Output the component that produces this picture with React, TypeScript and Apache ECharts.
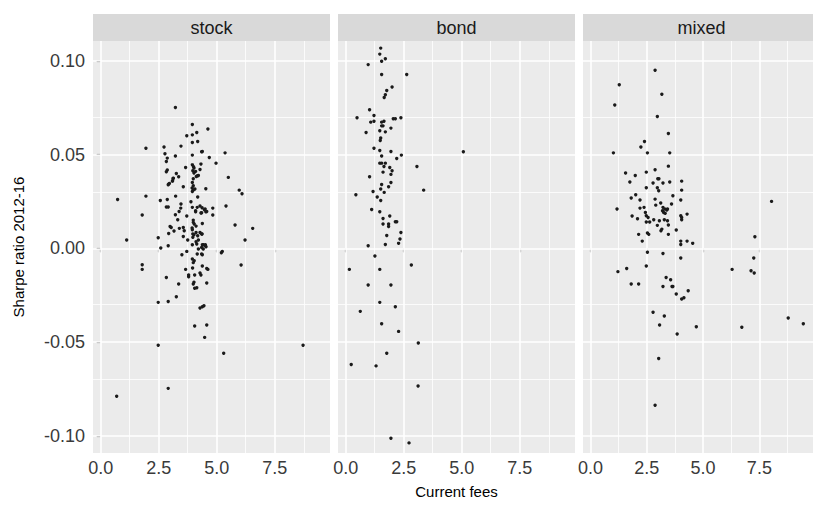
import React, { useEffect, useRef } from "react";
import * as echarts from "echarts";

const facets = ["stock", "bond", "mixed"];

const stockPoints: number[][] = [
  [3.22, 0.0752], [3.95, 0.0661], [4.14, 0.0619], [4.62, 0.0637], [3.71, 0.0601], [3.95, 0.0606],
  [4.18, 0.0571], [3.95, 0.0565], [1.95, 0.0535], [2.73, 0.0541], [3.46, 0.0546], [5.36, 0.051],
  [4.35, 0.0516], [2.77, 0.0505], [2.87, 0.0482], [3.22, 0.0493], [3.95, 0.0498], [4.68, 0.0485],
  [2.83, 0.0464], [4.97, 0.0455], [4.32, 0.045], [3.95, 0.0446], [3.66, 0.0432], [4.02, 0.0429],
  [4.28, 0.0421], [2.87, 0.0418], [2.83, 0.0409], [3.26, 0.04], [4.02, 0.0402], [4.17, 0.0388],
  [3.36, 0.0382], [5.5, 0.0379], [3.13, 0.0375], [3.99, 0.0372], [3.1, 0.0361], [2.96, 0.0347],
  [2.91, 0.034], [3.56, 0.0329], [3.99, 0.0334], [4.53, 0.0318], [4.06, 0.0317], [3.95, 0.0304],
  [5.97, 0.0311], [6.09, 0.0292], [3.23, 0.0279], [1.95, 0.0279], [4.18, 0.0274], [0.73, 0.0261],
  [2.57, 0.0256], [2.87, 0.0261], [3.89, 0.0249], [3.46, 0.0237], [5.4, 0.0226], [2.83, 0.0221],
  [2.91, 0.0221], [3.45, 0.0215], [3.95, 0.0219], [4.16, 0.0219], [4.28, 0.0226], [4.83, 0.0215],
  [4.47, 0.0206], [3.38, 0.0197], [4.09, 0.0196], [4.35, 0.019], [4.53, 0.0196], [1.79, 0.0178],
  [3.22, 0.018], [3.71, 0.0173], [4.83, 0.0178], [3.32, 0.0153], [3.99, 0.0151], [5.79, 0.0125],
  [4.38, 0.0133], [4.03, 0.013], [2.99, 0.0117], [3.04, 0.0112], [4.11, 0.0119], [6.55, 0.0107],
  [3.39, 0.0107], [3.16, 0.0093], [3.6, 0.0094], [3.95, 0.01], [4.11, 0.0085], [2.93, 0.008],
  [4.37, 0.0077], [4.02, 0.0073], [3.56, 0.0064], [2.48, 0.0057], [1.12, 0.0045], [3.75, 0.0045],
  [6.22, 0.0045], [4.11, 0.0036], [3.95, 0.002], [4.38, 0.002], [4.5, 0.0016], [2.91, 0.0014],
  [2.59, 0.0002], [4.21, -0.0003], [4.42, -0.0003], [5.24, -0.0016], [5.2, -0.0023], [3.71, -0.0016],
  [3.5, -0.0034], [4.16, -0.003], [3.95, -0.0057], [4.35, -0.003],
  [4.38, -0.0034], [4.03, -0.0066], [3.99, -0.0076], [1.79, -0.0087], [1.79, -0.0112], [3.96, -0.0105],
  [4.38, -0.0094], [4.57, -0.0107], [4.62, -0.0112], [6.05, -0.0089], [3.66, -0.0112], [2.83, -0.0155],
  [3.79, -0.0142], [3.79, -0.0151], [4.05, -0.0142], [4.28, -0.0131], [4.32, -0.0142], [3.36, -0.019],
  [4.02, -0.0181], [3.99, -0.019], [4.57, -0.0185], [4.05, -0.0213], [4.14, -0.021], [3.26, -0.0258],
  [2.91, -0.0283], [2.48, -0.0288], [4.28, -0.0318], [4.38, -0.0311], [4.45, -0.0306], [4.05, -0.0414],
  [4.57, -0.0409], [4.48, -0.0475], [2.48, -0.0517], [8.72, -0.0517], [5.3, -0.056], [2.91, -0.0747],
  [0.69, -0.0789],
  [4.0, 0.0436], [3.97, 0.0414], [3.95, 0.0352], [3.94, 0.0322], [3.99, 0.0311], [3.99, 0.0139],
  [3.94, 0.0109], [3.97, 0.0077], [3.97, 0.0059], [4.14, 0.0023], [4.38, 0.0517], [4.21, 0.0389],
  [4.12, 0.0384], [4.09, 0.0411], [4.5, 0.021], [4.57, 0.0197], [4.37, 0.0217], [4.32, 0.0189],
  [4.09, 0.0201], [4.28, 0.0085], [4.35, 0.0077], [4.18, 0.0068], [4.21, 0.0045], [4.42, 0.002],
  [4.51, 0.002], [4.54, 0.0009], [4.35, 0.0005], [3.12, 0.0373], [3.09, 0.0359], [2.93, 0.0343],
  [3.56, 0.0112],
];

const bondPoints: number[][] = [
  [1.51, 0.1069], [1.47, 0.1037], [1.71, 0.1012], [1.55, 0.0999], [0.97, 0.0981], [1.55, 0.0928],
  [2.63, 0.0928], [2.0, 0.0861], [1.77, 0.0843], [1.71, 0.082], [1.66, 0.0805], [1.03, 0.074],
  [1.22, 0.0709], [0.49, 0.0697], [2.05, 0.0692], [2.14, 0.0692], [2.38, 0.0697], [1.22, 0.0679],
  [1.08, 0.0674], [1.55, 0.0674], [1.65, 0.0679], [1.61, 0.0654], [1.55, 0.0654], [1.95, 0.0642],
  [1.47, 0.0628], [1.71, 0.0622], [0.88, 0.0619], [1.51, 0.0589], [1.49, 0.0576], [1.22, 0.0535],
  [1.47, 0.0523], [1.95, 0.0517], [1.55, 0.0493], [2.2, 0.048], [2.4, 0.0498], [3.07, 0.0437],
  [1.47, 0.0455], [1.55, 0.0455], [1.71, 0.0455], [1.65, 0.0437], [1.9, 0.0432], [2.0, 0.0414],
  [1.61, 0.0407], [1.95, 0.0395], [1.03, 0.0382], [1.95, 0.0352], [1.55, 0.0341], [1.85, 0.0329],
  [1.51, 0.0317], [1.18, 0.0304], [1.66, 0.0299], [0.44, 0.0286], [1.36, 0.0274], [1.51, 0.0256],
  [1.12, 0.0208], [1.47, 0.0196], [1.9, 0.0173], [1.61, 0.016], [2.14, 0.0142], [2.2, 0.0142],
  [1.61, 0.013], [1.85, 0.013], [1.85, 0.0117], [2.38, 0.0085], [1.77, 0.0069], [2.34, 0.005],
  [2.28, 0.0027], [1.71, 0.0021], [0.97, 0.0014], [1.26, -0.0041], [0.16, -0.0112], [1.47, -0.0112],
  [2.83, -0.0089], [0.97, -0.0195], [1.95, -0.0195], [1.47, -0.0288], [0.63, -0.0336], [2.14, -0.0311],
  [1.55, -0.0402], [2.28, -0.0443], [5.07, 0.0516], [3.36, 0.0311], [3.13, -0.0505], [1.77, -0.056],
  [0.24, -0.062], [1.31, -0.0627], [3.12, -0.0734], [1.95, -0.1013], [2.73, -0.1038],
];

const mixedPoints: number[][] = [
  [2.87, 0.0951], [1.28, 0.0873], [3.17, 0.0823], [1.08, 0.0765], [2.97, 0.0704], [3.46, 0.0613],
  [2.4, 0.0571], [2.24, 0.0541], [1.02, 0.051], [2.53, 0.051], [3.52, 0.051], [3.46, 0.0439],
  [2.87, 0.042], [2.48, 0.0407], [1.56, 0.0402], [1.99, 0.0389], [2.99, 0.0372], [3.04, 0.0372],
  [2.78, 0.0349], [3.22, 0.0349], [3.52, 0.0354], [4.05, 0.0359], [1.75, 0.0354], [2.48, 0.0324],
  [2.97, 0.0324], [3.03, 0.0308], [4.05, 0.0311], [2.01, 0.0286], [1.81, 0.0269], [2.2, 0.0258],
  [2.87, 0.0263], [3.66, 0.0281], [4.01, 0.0258], [3.12, 0.0242], [3.6, 0.0237], [2.9, 0.0231],
  [1.18, 0.021], [2.38, 0.0219], [2.2, 0.0215], [3.22, 0.0219], [3.3, 0.021], [3.39, 0.0205],
  [3.2, 0.0201], [3.42, 0.021], [3.32, 0.0187], [3.25, 0.0192], [2.44, 0.0192], [4.29, 0.0183],
  [4.01, 0.0174], [4.05, 0.0165], [4.05, 0.0153], [1.85, 0.0173], [2.48, 0.0174], [2.56, 0.0165],
  [2.09, 0.0158], [2.81, 0.0153], [3.06, 0.0148], [3.28, 0.0153], [3.42, 0.0148], [2.48, 0.0141],
  [2.63, 0.0141], [2.97, 0.0123], [3.46, 0.0125], [3.81, 0.0098], [3.13, 0.0094], [3.17, 0.0103],
  [2.14, 0.0075], [2.53, 0.0082], [2.59, 0.0075], [3.46, 0.0075], [2.3, 0.0039], [4.01, 0.0039],
  [4.01, 0.0021], [4.29, 0.0039], [4.54, 0.0027], [2.53, -0.0021], [3.22, -0.0027], [4.01, -0.0051],
  [2.48, -0.0094], [1.22, -0.0124], [1.61, -0.0107], [3.36, -0.0155], [3.56, -0.0167], [1.81, -0.019],
  [2.14, -0.019], [3.22, -0.0203], [3.62, -0.0203], [3.66, -0.0203], [4.34, -0.0226], [3.81, -0.0243],
  [4.15, -0.0263], [4.05, -0.027], [2.78, -0.0341], [3.28, -0.0361], [3.07, -0.0409], [4.7, -0.0418],
  [3.85, -0.0457], [3.03, -0.0588], [8.04, 0.0251], [7.3, 0.0062], [7.25, -0.0051], [6.29, -0.0112],
  [7.13, -0.0119], [7.27, -0.0131], [8.78, -0.0371], [9.45, -0.0402], [6.72, -0.0421], [2.87, -0.0837],
];

const yTicks = [-0.1, -0.05, 0, 0.05, 0.1];
const yMinor = [-0.075, -0.025, 0.025, 0.075];
const xTicks = [0, 2.5, 5, 7.5];
const xMinor = [1.25, 3.75, 6.25, 8.75];
const xTitle = "Current fees";
const yTitle = "Sharpe ratio 2012-16";

export default function App() {
  const ref = useRef<HTMLDivElement>(null);
  useEffect(() => {
    const chart = echarts.init(ref.current as HTMLDivElement, null, { renderer: "svg" });
    const FONT = '"Liberation Sans", Arial, Helvetica, sans-serif';
    const panelLeft = [93, 338, 583];
    const panelW = 237;
    const top = 41;
    const height = 412;
    const stripH = 27;
    const data = [stockPoints, bondPoints, mixedPoints];

    const grids = panelLeft.map((l) => ({
      left: l, top, width: panelW, height, show: true,
      backgroundColor: "#EBEBEB", borderWidth: 0, containLabel: false,
    }));

    const xAxes = panelLeft.map((_, i) => ({
      type: "value", gridIndex: i, min: -0.33, max: 9.88,
      axisLine: { show: false },
      splitLine: { show: false },
      axisTick: { show: true, customValues: xTicks, length: 4, lineStyle: { color: "#333333", width: 1.1 } },
      axisLabel: {
        customValues: xTicks, formatter: (v: number) => v.toFixed(1),
        color: "#3A3A3A", fontSize: 18, fontFamily: FONT, margin: 6,
      },
      name: i === 1 ? xTitle : "",
      nameLocation: "middle", nameGap: 31,
      nameTextStyle: { color: "#000000", fontSize: 15, fontFamily: FONT },
    }));

    const yAxes = panelLeft.map((_, i) => ({
      type: "value", gridIndex: i, min: -0.1092, max: 0.1107,
      axisLine: { show: false },
      splitLine: { show: false },
      axisTick: { show: i === 0, customValues: yTicks, length: 4, lineStyle: { color: "#333333", width: 1.1 } },
      axisLabel: {
        show: i === 0, customValues: yTicks, formatter: (v: number) => v.toFixed(2),
        color: "#3A3A3A", fontSize: 18, fontFamily: FONT, margin: 8,
      },
      name: i === 0 ? yTitle : "",
      nameLocation: "middle", nameGap: 67, nameRotate: 90,
      nameTextStyle: { color: "#000000", fontSize: 15, fontFamily: FONT },
    }));

    const major = { color: "#FFFFFF", width: 1.6, type: "solid" };
    const minor = { color: "#FFFFFF", width: 0.8, type: "solid" };
    const gridSeries = panelLeft.map((_, i) => ({
      type: "scatter", xAxisIndex: i, yAxisIndex: i, data: [], z: 1, silent: true,
      markLine: {
        silent: true, symbol: ["none", "none"], label: { show: false }, animation: false,
        data: [
          ...yMinor.map((v) => ({ yAxis: v, lineStyle: minor })),
          ...xMinor.map((v) => ({ xAxis: v, lineStyle: minor })),
          ...yTicks.map((v) => ({ yAxis: v, lineStyle: major })),
          ...xTicks.map((v) => ({ xAxis: v, lineStyle: major })),
        ],
      },
    }));

    const pointSeries = data.map((d, i) => ({
      type: "scatter", name: facets[i], xAxisIndex: i, yAxisIndex: i, data: d, z: 5,
      symbol: "circle", symbolSize: 3.4, itemStyle: { color: "#1A1A1A", opacity: 1 },
    }));

    const strips: any[] = [];
    panelLeft.forEach((l, i) => {
      strips.push({
        type: "rect", shape: { x: l, y: top - stripH, width: panelW, height: stripH },
        style: { fill: "#D9D9D9" }, silent: true,
      });
      strips.push({
        type: "text", x: l + panelW / 2, y: top - stripH / 2,
        style: {
          text: facets[i], fill: "#1A1A1A", font: `18px ${FONT}`,
          textAlign: "center", textVerticalAlign: "middle",
        },
        silent: true,
      });
    });

    chart.setOption({
      animation: false,
      backgroundColor: "#FFFFFF",
      grid: grids,
      xAxis: xAxes,
      yAxis: yAxes,
      series: [...gridSeries, ...pointSeries],
      graphic: strips,
    } as any);
    return () => chart.dispose();
  }, []);
  return (
    <div
      ref={ref}
      style={{ position: "absolute", left: 0, top: 0, width: 813, height: 509 }}
    />
  );
}
